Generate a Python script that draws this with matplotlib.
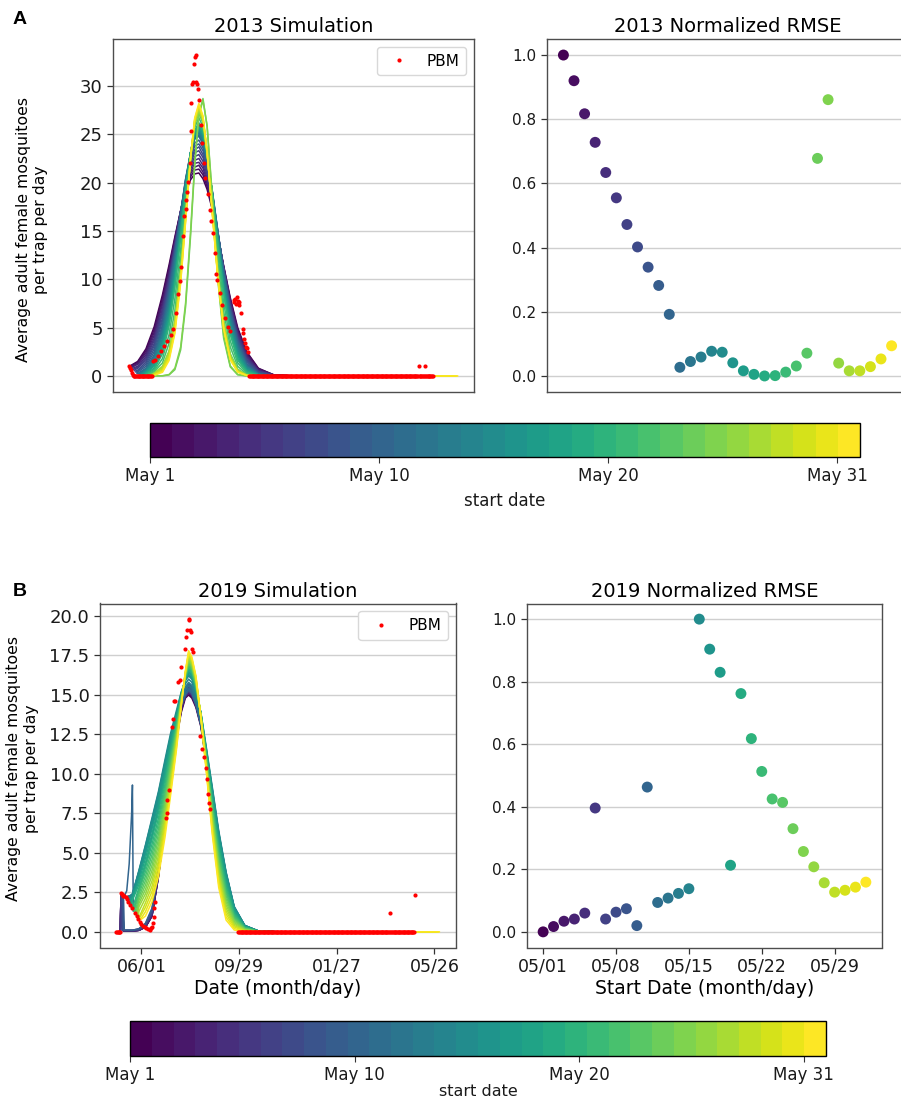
import numpy as np
import matplotlib
matplotlib.use("Agg")
import matplotlib.pyplot as plt
from matplotlib.colors import ListedColormap, Normalize
from matplotlib.cm import ScalarMappable
from matplotlib.ticker import MultipleLocator, FormatStrFormatter, FixedLocator

# ------------------------------------------------------------------ data
N_START = 32                       # start dates May 1 ... June 1 (day index 0..31)
start_days = list(range(N_START))
SIM_LENGTH = 366                   # each simulation runs one year from its start

cbar_ticks = [0, 10, 20, 30]
cbar_labels = ["May 1", "May 10", "May 20", "May 31"]

# ---- 2013 simulations (days after May 1 2013) ----
grid13 = [10, 20, 30, 40, 48, 55, 62, 68, 74, 79, 84, 89, 94, 100, 107, 114, 122, 131, 142, 156, 175, 200]
start13 = [1.0, 1.0, 0.9, 0.9, 0.8, 0.7, 0.6, 0.5, 0.4, 0.3, 0.25, 0.25, 0.25, 0.2, 0.2, 0.2,
           0.2, 0.15, 0.15, 0.15, 0.15, 0.1, 0.1, 0.1, 0.05, 0.05, 0.1, 0.1, 0.1, 0.1, 0.1, 0.1]
N = None
sim13 = [
    [1.5, 2.8, 5.1, 8.4, 11.5, 14.4, 17.1, 19.0, 20.3, 20.9, 21.0, 20.4, 19.3, 17.3, 14.5, 11.4, 8.1, 5.0, 2.5, 0.8, 0.1, 0],
    [1.4, 2.6, 4.8, 8.1, 11.2, 14.2, 17.1, 19.1, 20.6, 21.3, 21.4, 20.8, 19.6, 17.5, 14.55, 11.3, 7.95, 4.8, 2.4, 0.75, 0.1, 0],
    [1.3, 2.4, 4.5, 7.7, 10.9, 14.0, 17.1, 19.3, 20.9, 21.6, 21.8, 21.1, 19.9, 17.7, 14.6, 11.3, 7.8, 4.7, 2.2, 0.7, 0.1, 0],
    [1.2, 2.2, 4.2, 7.4, 10.6, 13.8, 17.0, 19.4, 21.1, 22.0, 22.1, 21.5, 20.2, 17.9, 14.65, 11.2, 7.65, 4.5, 2.1, 0.6, 0.1, 0],
    [1.0, 2.0, 3.9, 7.0, 10.3, 13.6, 17.0, 19.6, 21.4, 22.3, 22.5, 21.8, 20.5, 18.1, 14.7, 11.2, 7.5, 4.4, 2.0, 0.55, 0.05, 0],
    [0.9, 1.8, 3.65, 6.7, 10.05, 13.45, 17.0, 19.7, 21.7, 22.7, 22.9, 22.2, 20.8, 18.3, 14.75, 11.1, 7.35, 4.2, 1.85, 0.5, 0.05, 0],
    [0.8, 1.6, 3.35, 6.4, 9.8, 13.3, 17.0, 19.8, 22.0, 23.1, 23.3, 22.6, 21.1, 18.5, 14.8, 11.0, 7.2, 4.0, 1.7, 0.45, 0.05, 0],
    [0.6, 1.4, 3.1, 6.0, 9.5, 13.1, 17.0, 20.0, 22.3, 23.4, 23.7, 22.9, 21.4, 18.7, 14.85, 11.0, 7.05, 3.9, 1.6, 0.4, 0.05, 0],
    [0.5, 1.2, 2.8, 5.7, 9.2, 12.9, 16.9, 20.1, 22.5, 23.8, 24.0, 23.3, 21.7, 18.9, 14.9, 10.9, 6.9, 3.7, 1.5, 0.3, 0, 0],
    [0.4, 1.0, 2.5, 5.3, 8.9, 12.7, 16.9, 20.3, 22.8, 24.1, 24.4, 23.6, 22.0, 19.1, 14.95, 10.9, 6.75, 3.6, 1.3, 0.25, 0, 0],
    [N, 0.8, 2.2, 5.0, 8.6, 12.5, 16.9, 20.4, 23.1, 24.5, 24.8, 24.0, 22.3, 19.3, 15.0, 10.8, 6.6, 3.4, 1.2, 0.2, 0, 0],
    [N, 0.75, 2.05, 4.7, 8.3, 12.2, 16.6, 20.3, 23.1, 24.6, 24.9, 24.1, 22.4, 19.3, 14.85, 10.6, 6.4, 3.2, 1.1, 0.2, 0, 0],
    [N, 0.7, 1.9, 4.5, 7.9, 11.8, 16.4, 20.1, 23.1, 24.7, 25.1, 24.3, 22.5, 19.2, 14.7, 10.3, 6.1, 3.05, 1.05, 0.2, 0, 0],
    [N, 0.6, 1.75, 4.2, 7.6, 11.5, 16.1, 20.0, 23.1, 24.8, 25.2, 24.4, 22.5, 19.2, 14.55, 10.1, 5.9, 2.9, 0.95, 0.15, 0, 0],
    [N, 0.55, 1.6, 3.9, 7.2, 11.2, 15.9, 19.8, 23.1, 24.9, 25.4, 24.6, 22.6, 19.2, 14.4, 9.9, 5.7, 2.7, 0.9, 0.15, 0, 0],
    [N, 0.5, 1.45, 3.65, 6.9, 10.85, 15.6, 19.7, 23.1, 24.95, 25.5, 24.7, 22.7, 19.15, 14.25, 9.65, 5.45, 2.5, 0.8, 0.1, 0, 0],
    [N, 0.45, 1.3, 3.4, 6.6, 10.5, 15.3, 19.6, 23.1, 25.0, 25.6, 24.8, 22.8, 19.1, 14.1, 9.4, 5.2, 2.35, 0.7, 0.1, 0, 0],
    [N, 0.35, 1.15, 3.1, 6.2, 10.2, 15.1, 19.4, 23.1, 25.1, 25.8, 25.0, 22.9, 19.1, 13.95, 9.2, 5.0, 2.2, 0.65, 0.1, 0, 0],
    [N, 0.3, 1.0, 2.8, 5.9, 9.9, 14.8, 19.3, 23.1, 25.2, 25.9, 25.1, 22.9, 19.1, 13.8, 8.95, 4.8, 2.0, 0.55, 0.05, 0, 0],
    [N, 0.25, 0.8, 2.6, 5.5, 9.5, 14.6, 19.1, 23.1, 25.3, 26.1, 25.3, 23.0, 19.0, 13.65, 8.7, 4.5, 1.8, 0.5, 0.05, 0, 0],
    [N, N, 0.68, 2.3, 5.2, 9.2, 14.3, 19.0, 23.1, 25.4, 26.2, 25.4, 23.1, 19.0, 13.5, 8.5, 4.3, 1.65, 0.4, 0.04, 0, 0],
    [N, N, 0.55, 1.8, 4.3, 8.0, 13.1, 18.25, 23.0, 25.7, 26.7, 25.8, 23.1, 18.5, 12.6, 7.6, 3.65, 1.35, 0.3, 0.03, 0, 0],
    [N, N, 0.45, 1.35, 3.4, 6.8, 12.0, 17.5, 22.85, 26.05, 27.2, 26.15, 23.15, 18.05, 11.75, 6.7, 3.0, 1.0, 0.2, 0.02, 0, 0],
    [N, N, 0.3, 0.85, 2.5, 5.6, 10.8, 16.75, 22.7, 26.4, 27.7, 26.5, 23.2, 17.6, 10.9, 5.8, 2.3, 0.7, 0.1, 0, 0, 0],
    [N, N, 0.0, 0.01, 0.11, 0.65, 2.7, 7.2, 14.5, 21.7, 27.1, 28.7, 25.8, 18.7, 9.9, 3.9, 0.94, 0.12, 0, 0, 0, 0],
    [N, N, 0.0, 0.02, 0.15, 0.8, 3.0, 7.6, 15.0, 22.0, 27.0, 28.5, 25.9, 19.0, 10.3, 4.2, 1.05, 0.15, 0, 0, 0, 0],
    [N, N, 0.3, 1.0, 2.6, 5.8, 11.0, 16.9, 22.5, 26.0, 27.4, 26.3, 23.0, 17.5, 10.8, 5.6, 2.2, 0.65, 0.1, 0, 0, 0],
    [N, N, 0.25, 0.9, 2.4, 5.5, 10.7, 16.7, 22.5, 26.2, 27.6, 26.5, 23.1, 17.4, 10.6, 5.4, 2.05, 0.6, 0.08, 0, 0, 0],
    [N, N, 0.2, 0.75, 2.2, 5.2, 10.4, 16.5, 22.6, 26.3, 27.8, 26.6, 23.1, 17.3, 10.4, 5.2, 1.9, 0.5, 0.06, 0, 0, 0],
    [N, N, 0.15, 0.6, 2.0, 4.9, 10.1, 16.3, 22.6, 26.5, 27.9, 26.7, 23.2, 17.2, 10.2, 5.0, 1.8, 0.45, 0.05, 0, 0, 0],
    [N, N, N, 0.5, 1.8, 4.6, 9.8, 16.1, 22.6, 26.6, 28.0, 26.8, 23.2, 17.1, 10.1, 4.9, 1.7, 0.4, 0.05, 0, 0, 0],
    [N, N, N, 0.38, 1.6, 4.4, 9.6, 16.0, 22.6, 26.7, 28.2, 26.9, 23.2, 17.1, 10.0, 4.9, 1.7, 0.4, 0.04, 0, 0, 0],
]

# PBM 2013 (days after May 1 2013)
pbm13_days = [0, 1, 2, 3, 4, 29, 31, 34, 38, 42, 46, 50, 53, 56, 59, 61, 63, 65, 66, 68, 69, 70, 71,
              73, 74, 75, 76, 77, 78, 79, 80, 81, 82, 83, 84, 86, 88, 90, 92, 95, 97, 99, 101, 103,
              105, 106, 109, 112, 116, 119, 122, 126, 127, 128, 129, 130, 131, 132, 133, 135, 137,
              138, 139, 140, 141, 142, 143, 350, 357]
pbm13_vals = [1.0, 0.85, 0.6, 0.3, 0.15, 1.5, 1.65, 2.1, 2.6, 3.1, 3.6, 4.2, 4.9, 6.5, 8.5, 9.8, 11.3,
              14.5, 16.5, 17.3, 18.2, 19.0, 20.1, 22.0, 25.3, 28.2, 30.2, 30.4, 32.3, 33.0, 33.2, 30.4,
              30.2, 29.7, 28.5, 26.0, 24.1, 22.0, 20.5, 18.8, 17.2, 16.0, 14.8, 12.7, 10.5, 9.9, 8.6,
              7.3, 6.0, 5.1, 4.6, 7.9, 7.6, 8.0, 7.4, 8.2, 7.8, 7.3, 7.7, 6.5, 4.9, 4.4, 3.8, 3.4, 3.0,
              2.9, 2.5, 1.0, 1.0]
pbm13_zero_runs = [(5, 27), (145, 367)]

# ---- 2019 simulations (days after May 1 2019) ----
grid19 = [12, 20, 28, 36, 44, 52, 60, 67, 74, 80, 85, 89, 93, 98, 104, 111, 118, 126, 135, 145, 158, 175, 200]
pre19_days = [
    [0, 5, 6, 8, 9], [1, 5, 6, 8, 9], [2, 5, 6, 8, 9], [3, 5, 6, 8, 9], [4, 5, 6, 8, 9],
    [5, 6, 8, 10], [6, 7], [7, 8], [8, 9], [9, 10], [10, 13, 16, 19, 20, 21],
    [11], [12], [13], [14], [15], [16], [17], [18], [19], [20], [21], [22], [23], [24], [25],
    [26], [27], [28], [29], [30], [31],
]
pre19_vals = [
    [0, 0, 2.4, 2.3, 0.05], [0, 0, 2.4, 2.3, 0.05], [0, 0, 2.4, 2.3, 0.05], [0, 0, 2.4, 2.3, 0.05],
    [0, 0, 2.4, 2.3, 0.05], [0, 2.4, 2.3, 2.25], [2.45, 0.1], [2.4, 0.1], [2.35, 0.1], [2.3, 0.1],
    [2.25, 2.6, 4.3, 7.5, 9.3, 1.3],
    [2.2], [2.2], [2.1], [2.0], [1.9], [1.8], [1.7], [1.6], [1.6], [1.5], [1.4], [1.3], [1.2],
    [1.1], [1.0], [1.0], [0.9], [0.9], [0.9], [0.8], [0.8],
]
sim19 = [
    [0.05, 0.05, 0.1, 0.3, 1.0, 3.5, 6.8, 9.8, 12.2, 13.9, 14.8, 15.0, 14.8, 14.2, 13.0, 10.6, 8.0, 5.2, 2.7, 1.0, 0.2, 0.02, 0],
    [0.05, 0.05, 0.1, 0.3, 1.0, 3.5, 6.85, 9.85, 12.25, 14.0, 14.9, 15.1, 14.9, 14.3, 13.1, 10.7, 8.0, 5.2, 2.7, 1.0, 0.2, 0.02, 0],
    [0.05, 0.05, 0.1, 0.3, 1.0, 3.55, 6.9, 9.9, 12.3, 14.05, 14.95, 15.15, 14.95, 14.35, 13.15, 10.75, 8.05, 5.25, 2.75, 1.0, 0.2, 0.02, 0],
    [0.05, 0.05, 0.1, 0.3, 1.05, 3.6, 6.95, 9.95, 12.4, 14.1, 15.0, 15.2, 15.0, 14.4, 13.2, 10.8, 8.1, 5.3, 2.75, 1.0, 0.2, 0.02, 0],
    [0.05, 0.05, 0.1, 0.35, 1.1, 3.65, 7.0, 10.0, 12.45, 14.2, 15.1, 15.3, 15.1, 14.5, 13.3, 10.9, 8.15, 5.35, 2.8, 1.0, 0.2, 0.02, 0],
    [2.2, 2.3, 3.6, 5.0, 6.6, 8.3, 10.2, 11.8, 13.1, 14.2, 14.9, 15.2, 15.0, 14.3, 13.1, 10.9, 8.6, 6.0, 3.5, 1.45, 0.35, 0.04, 0],
    [0.1, 0.1, 0.15, 0.4, 1.2, 3.8, 7.1, 10.1, 12.6, 14.3, 15.2, 15.4, 15.2, 14.6, 13.4, 11.0, 8.3, 5.45, 2.85, 1.05, 0.2, 0.02, 0],
    [0.1, 0.1, 0.15, 0.45, 1.3, 3.9, 7.2, 10.2, 12.7, 14.4, 15.3, 15.5, 15.3, 14.7, 13.5, 11.1, 8.35, 5.5, 2.9, 1.1, 0.2, 0.02, 0],
    [0.1, 0.1, 0.2, 0.5, 1.4, 4.0, 7.3, 10.3, 12.8, 14.5, 15.4, 15.6, 15.4, 14.8, 13.6, 11.2, 8.4, 5.55, 2.95, 1.1, 0.2, 0.02, 0],
    [0.1, 0.1, 0.2, 0.55, 1.5, 4.1, 7.4, 10.4, 12.9, 14.6, 15.5, 15.7, 15.5, 14.9, 13.7, 11.3, 8.5, 5.6, 3.0, 1.15, 0.2, 0.02, 0],
    [N, N, 2.6, 4.2, 6.0, 7.9, 10.0, 11.8, 13.2, 14.4, 15.0, 15.3, 15.1, 14.4, 13.1, 10.9, 8.6, 6.0, 3.5, 1.5, 0.35, 0.05, 0],
    [2.2, 2.35, 3.7, 5.2, 6.8, 8.5, 10.4, 12.0, 13.3, 14.4, 15.1, 15.4, 15.2, 14.4, 13.2, 11.0, 8.7, 6.1, 3.6, 1.5, 0.4, 0.05, 0],
    [N, 2.35, 3.75, 5.3, 6.9, 8.6, 10.5, 12.1, 13.5, 14.6, 15.3, 15.6, 15.4, 14.6, 13.4, 11.2, 8.9, 6.2, 3.7, 1.55, 0.4, 0.05, 0],
    [N, 2.4, 3.8, 5.35, 7.0, 8.7, 10.6, 12.3, 13.65, 14.8, 15.5, 15.8, 15.6, 14.8, 13.55, 11.3, 9.0, 6.25, 3.7, 1.55, 0.4, 0.05, 0],
    [N, 2.4, 3.85, 5.45, 7.1, 8.8, 10.75, 12.45, 13.8, 15.0, 15.7, 16.0, 15.8, 15.0, 13.7, 11.45, 9.1, 6.3, 3.75, 1.6, 0.4, 0.05, 0],
    [N, 2.4, 3.9, 5.5, 7.2, 8.9, 10.9, 12.6, 14.0, 15.2, 15.9, 16.2, 16.0, 15.2, 13.9, 11.6, 9.2, 6.4, 3.8, 1.6, 0.4, 0.05, 0],
    [N, 2.3, 3.6, 5.22, 6.87, 8.56, 10.59, 12.36, 13.84, 15.14, 15.94, 16.3, 16.09, 15.26, 13.88, 11.5, 9.01, 6.18, 3.61, 1.51, 0.38, 0.05, 0],
    [N, 2.2, 3.4, 4.94, 6.54, 8.23, 10.29, 12.11, 13.69, 15.09, 15.98, 16.4, 16.18, 15.33, 13.86, 11.4, 8.83, 5.95, 3.42, 1.42, 0.35, 0.05, 0],
    [N, 2.1, 3.2, 4.66, 6.21, 7.89, 9.98, 11.87, 13.53, 15.03, 16.01, 16.5, 16.26, 15.39, 13.84, 11.3, 8.64, 5.73, 3.23, 1.32, 0.33, 0.04, 0],
    [N, 2.0, 3.0, 4.38, 5.88, 7.55, 9.68, 11.63, 13.38, 14.98, 16.05, 16.6, 16.35, 15.45, 13.83, 11.2, 8.45, 5.5, 3.04, 1.23, 0.3, 0.04, 0],
    [N, N, 2.8, 4.09, 5.54, 7.21, 9.37, 11.38, 13.22, 14.92, 16.09, 16.7, 16.44, 15.51, 13.81, 11.1, 8.26, 5.28, 2.85, 1.14, 0.28, 0.04, 0],
    [N, N, 2.6, 3.81, 5.21, 6.88, 9.06, 11.14, 13.06, 14.86, 16.13, 16.8, 16.53, 15.58, 13.79, 11.0, 8.08, 5.05, 2.66, 1.05, 0.25, 0.03, 0],
    [N, N, 2.4, 3.53, 4.88, 6.54, 8.76, 10.89, 12.91, 14.81, 16.16, 16.9, 16.61, 15.64, 13.77, 10.9, 7.89, 4.83, 2.47, 0.95, 0.23, 0.03, 0],
    [N, N, 2.2, 3.25, 4.55, 6.2, 8.45, 10.65, 12.75, 14.75, 16.2, 17.0, 16.7, 15.7, 13.75, 10.8, 7.7, 4.6, 2.28, 0.86, 0.2, 0.03, 0],
    [N, N, 2.0, 2.97, 4.22, 5.86, 8.14, 10.41, 12.59, 14.69, 16.24, 17.1, 16.79, 15.76, 13.73, 10.7, 7.51, 4.38, 2.08, 0.77, 0.18, 0.02, 0],
    [N, N, 1.8, 2.69, 3.89, 5.53, 7.84, 10.16, 12.44, 14.64, 16.28, 17.2, 16.88, 15.83, 13.71, 10.6, 7.33, 4.15, 1.89, 0.68, 0.15, 0.02, 0],
    [N, N, 1.6, 2.41, 3.56, 5.19, 7.53, 9.92, 12.28, 14.58, 16.31, 17.3, 16.96, 15.89, 13.69, 10.5, 7.14, 3.93, 1.7, 0.58, 0.13, 0.02, 0],
    [N, N, 1.3, 2.13, 3.22, 4.85, 7.23, 9.68, 12.13, 14.52, 16.35, 17.4, 17.05, 15.95, 13.68, 10.4, 6.95, 3.7, 1.51, 0.49, 0.1, 0.01, 0],
    [N, N, N, 1.84, 2.89, 4.51, 6.92, 9.43, 11.97, 14.47, 16.39, 17.5, 17.14, 16.01, 13.66, 10.3, 6.76, 3.48, 1.32, 0.4, 0.08, 0.01, 0],
    [N, N, N, 1.56, 2.56, 4.18, 6.61, 9.19, 11.81, 14.41, 16.43, 17.6, 17.23, 16.08, 13.64, 10.2, 6.58, 3.25, 1.13, 0.31, 0.05, 0.01, 0],
    [N, N, N, 1.28, 2.23, 3.84, 6.31, 8.94, 11.66, 14.36, 16.46, 17.7, 17.31, 16.14, 13.62, 10.1, 6.39, 3.03, 0.94, 0.21, 0.03, 0, 0],
    [N, N, N, 1.0, 1.9, 3.5, 6.0, 8.7, 11.5, 14.3, 16.5, 17.8, 17.4, 16.2, 13.6, 10.0, 6.2, 2.8, 0.75, 0.12, 0, 0, 0],
]

# PBM 2019 (days after May 1 2019)
pbm19_days = [6, 7, 8, 9, 10, 12, 13, 15, 17, 20, 23, 25, 27, 29, 31, 33, 35, 37, 39, 41, 43, 44, 45, 46,
              47, 48, 61, 62, 63, 65, 69, 70, 71, 72, 76, 78, 80, 85, 86, 87, 89, 90, 91, 92, 93, 95,
              103, 106, 108, 110, 111, 113, 114, 115, 336, 367]
pbm19_vals = [2.45, 2.4, 2.35, 2.3, 2.25, 2.2, 2.1, 1.9, 1.7, 1.5, 1.2, 1.0, 0.8, 0.6, 0.5, 0.35, 0.3,
              0.25, 0.15, 0.13, 0.23, 0.3, 0.55, 0.97, 1.5, 1.9, 7.2, 7.55, 8.35, 9.0, 13.0, 13.5, 14.6,
              14.6, 15.85, 15.95, 16.8, 17.9, 18.65, 19.1, 19.8, 19.75, 19.1, 19.0, 17.9, 17.7, 12.4,
              11.55, 11.1, 10.4, 9.7, 8.7, 8.15, 7.8, 1.2, 2.35]
pbm19_zero_runs = [(0, 5), (150, 366)]

# x ticks of the 2019 panels
sim19_tick_days = [31, 151, 271, 391]
sim19_tick_labels = ["06/01", "09/29", "01/27", "05/26"]
rmse19_tick_days = [0, 7, 14, 21, 28]
rmse19_tick_labels = ["05/01", "05/08", "05/15", "05/22", "05/29"]

# normalized RMSE per start date
rmse13 = [1.0, 0.92, 0.817, 0.728, 0.634, 0.555, 0.472, 0.402, 0.339, 0.282, 0.192, 0.027, 0.045,
          0.059, 0.077, 0.074, 0.041, 0.016, 0.005, 0.0, 0.001, 0.012, 0.031, 0.071, 0.678, 0.861,
          0.040, 0.016, 0.016, 0.029, 0.053, 0.094]
rmse19 = [0.0, 0.017, 0.034, 0.041, 0.060, 0.396, 0.041, 0.063, 0.074, 0.020, 0.463, 0.094, 0.108,
          0.123, 0.138, 1.0, 0.904, 0.830, 0.213, 0.762, 0.618, 0.513, 0.425, 0.414, 0.330, 0.257,
          0.208, 0.157, 0.127, 0.133, 0.143, 0.159]

# ------------------------------------------------------------------ helpers
cmap32 = ListedColormap(plt.cm.viridis(np.linspace(0, 1, N_START)))
norm = Normalize(vmin=0, vmax=N_START - 1)
colors = [cmap32(norm(s)) for s in start_days]


def build_curve(pre_d, pre_v, grid, row, start):
    xs, ys = list(pre_d), list(pre_v)
    for g, v in zip(grid, row, strict=True):
        if v is not None:
            xs.append(g)
            ys.append(v)
    xs.append(start + SIM_LENGTH)
    ys.append(0.0)
    return xs, ys


def pbm_points(days, vals, zero_runs):
    taken = set(days)
    zd = [d for a, b in zero_runs for d in range(a, b + 1) if d not in taken]
    xs = list(days) + zd
    ys = list(vals) + [0.0] * len(zd)
    return xs, ys


W, H = 901, 1104


def rect(x0, y0, x1, y1):
    return [x0 / W, 1 - y1 / H, (x1 - x0) / W, (y1 - y0) / H]


SPINE = "#4d4d4d"
GRID = "#cfcfcf"


def style(ax, ylab_size):
    for sp in ax.spines.values():
        sp.set_color(SPINE)
        sp.set_linewidth(1.0)
    ax.yaxis.grid(True, color=GRID, lw=1.0)
    ax.set_axisbelow(True)
    ax.tick_params(axis="both", colors="#333333", length=4, width=0.9)
    ax.tick_params(axis="y", labelsize=ylab_size, labelcolor="#1a1a1a")
    ax.tick_params(axis="x", labelsize=12.5, labelcolor="#1a1a1a")


def add_legend(ax):
    ax.legend(loc="upper right", fontsize=11, handlelength=2.0, borderpad=0.45,
              handletextpad=0.8, edgecolor="#d8d8d8", framealpha=1.0)


# ------------------------------------------------------------------ figure
fig = plt.figure(figsize=(W / 100, H / 100), dpi=100)

ax_tl = fig.add_axes(rect(113, 39, 474, 392))
ax_tr = fig.add_axes(rect(547, 39, 908, 392))
cax_t = fig.add_axes(rect(150, 423, 860, 457))
ax_bl = fig.add_axes(rect(100, 603.5, 455.5, 947.5))
ax_br = fig.add_axes(rect(527, 603.5, 882, 947.5))
cax_b = fig.add_axes(rect(130, 1021, 826, 1056))

ylabel = "Average adult female mosquitoes\nper trap per day"

# ---- 2013 simulation ----
for i in range(N_START):
    xs, ys = build_curve([start_days[i]], [start13[i]], grid13, sim13[i], start_days[i])
    ax_tl.plot(xs, ys, color=colors[i], lw=1.1, zorder=2)
px, py = pbm_points(pbm13_days, pbm13_vals, pbm13_zero_runs)
ax_tl.plot(px, py, "o", color="red", ms=3.0, mew=0, zorder=3, label="PBM")
style(ax_tl, 13)
ax_tl.yaxis.set_major_locator(MultipleLocator(5))
ax_tl.set_xticks([])
ax_tl.set_title("2013 Simulation", fontsize=14, pad=5)
ax_tl.set_ylabel(ylabel, fontsize=11.3)
ax_tl.yaxis.set_label_coords(-0.18, 0.46)
add_legend(ax_tl)

# ---- 2013 RMSE ----
ax_tr.scatter(start_days, rmse13, c=start_days, cmap=cmap32, norm=norm, s=62, zorder=3, linewidths=0)
style(ax_tr, 11)
ax_tr.yaxis.set_major_locator(MultipleLocator(0.2))
ax_tr.yaxis.set_major_formatter(FormatStrFormatter("%.1f"))
ax_tr.set_xticks([])
ax_tr.set_title("2013 Normalized RMSE", fontsize=14, pad=5)

# ---- 2019 simulation ----
for i in range(N_START):
    xs, ys = build_curve(pre19_days[i], pre19_vals[i], grid19, sim19[i], start_days[i])
    ax_bl.plot(xs, ys, color=colors[i], lw=1.1, zorder=2)
px, py = pbm_points(pbm19_days, pbm19_vals, pbm19_zero_runs)
ax_bl.plot(px, py, "o", color="red", ms=3.0, mew=0, zorder=3, label="PBM")
style(ax_bl, 13)
ax_bl.yaxis.set_major_locator(MultipleLocator(2.5))
ax_bl.yaxis.set_major_formatter(FormatStrFormatter("%.1f"))
ax_bl.xaxis.set_major_locator(FixedLocator(sim19_tick_days))
ax_bl.set_xticklabels(sim19_tick_labels)
ax_bl.set_title("2019 Simulation", fontsize=14, pad=5)
ax_bl.set_xlabel("Date (month/day)", fontsize=13.5, labelpad=2)
ax_bl.set_ylabel(ylabel, fontsize=11.3)
ax_bl.yaxis.set_label_coords(-0.172, 0.52)
add_legend(ax_bl)

# ---- 2019 RMSE ----
ax_br.scatter(start_days, rmse19, c=start_days, cmap=cmap32, norm=norm, s=62, zorder=3, linewidths=0)
style(ax_br, 11)
ax_br.yaxis.set_major_locator(MultipleLocator(0.2))
ax_br.yaxis.set_major_formatter(FormatStrFormatter("%.1f"))
ax_br.xaxis.set_major_locator(FixedLocator(rmse19_tick_days))
ax_br.set_xticklabels(rmse19_tick_labels)
ax_br.set_title("2019 Normalized RMSE", fontsize=14, pad=5)
ax_br.set_xlabel("Start Date (month/day)", fontsize=13.5, labelpad=2)

# ---- colorbars ----
sm = ScalarMappable(norm=norm, cmap=cmap32)
for cax, lsize, lpad in ((cax_t, 12, 5), (cax_b, 11.5, 0.5)):
    cb = fig.colorbar(sm, cax=cax, orientation="horizontal")
    cb.set_ticks(cbar_ticks)
    cb.set_ticklabels(cbar_labels)
    cb.ax.tick_params(labelsize=12, length=4, pad=3, colors="#333333", labelcolor="#1a1a1a")
    cb.set_label("start date", fontsize=lsize, color="#1a1a1a", labelpad=lpad)
    cb.outline.set_linewidth(1.0)

# panel letters
fig.text(13 / W, 1 - 20 / H, "A", fontsize=14, fontweight="bold", family="Liberation Sans", va="center")
fig.text(13 / W, 1 - 591 / H, "B", fontsize=14, fontweight="bold", family="Liberation Sans", va="center")

fig.savefig("out.png", dpi=100)
